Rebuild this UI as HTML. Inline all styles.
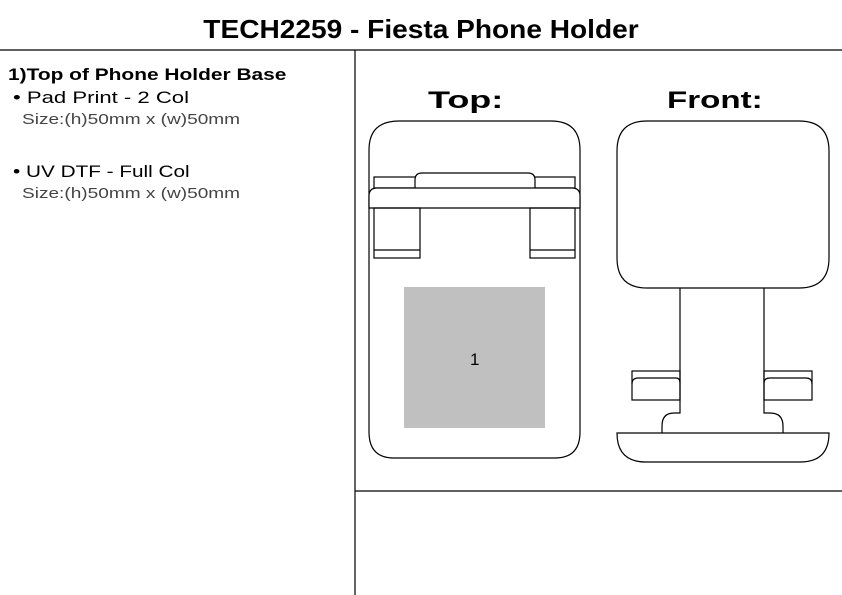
<!DOCTYPE html><html><head><style>
body{margin:0;width:842px;height:595px;background:#fff;font-family:"Liberation Sans",sans-serif;position:relative;overflow:hidden}
.t{position:absolute;white-space:nowrap;color:#000;transform-origin:0 50%}
</style></head><body>
<div class="t" style="left:0;width:842px;text-align:center;top:14px;font-size:26px;font-weight:bold;transform-origin:50% 50%;transform:scaleX(1.08)">TECH2259 - Fiesta Phone Holder</div>
<div class="t" style="left:8px;top:65px;font-size:17px;font-weight:bold;transform:scaleX(1.23)">1)Top of Phone Holder Base</div>
<div class="t" style="left:13px;top:88px;font-size:17px;transform:scaleX(1.3)">• Pad Print - 2 Col</div>
<div class="t" style="left:22px;top:111px;font-size:15px;color:#444;transform:scaleX(1.27)">Size:(h)50mm x (w)50mm</div>
<div class="t" style="left:13px;top:162px;font-size:17px;transform:scaleX(1.22)">• UV DTF - Full Col</div>
<div class="t" style="left:22px;top:185px;font-size:15px;color:#444;transform:scaleX(1.27)">Size:(h)50mm x (w)50mm</div>
<div class="t" style="left:428px;top:87px;font-size:24px;font-weight:bold;transform:scaleX(1.5)">Top:</div>
<div class="t" style="left:667px;top:87px;font-size:24px;font-weight:bold;transform:scaleX(1.38)">Front:</div>
<svg width="842" height="595" style="position:absolute;left:0;top:0" fill="none" stroke="#000" stroke-width="1.2">
<line x1="0" y1="50" x2="842" y2="50"/>
<line x1="355" y1="50" x2="355" y2="595"/>
<line x1="355" y1="491" x2="842" y2="491"/>
<path d="M369,432 V150 Q369,121 399,121 H551 Q580,121 580,150 V432 Q580,458 555,458 H394 Q369,458 369,432 Z"/>
<rect x="374" y="177" width="201" height="11"/>
<path d="M415,188 V180 Q415,173 422,173 H528 Q535,173 535,180 V188" fill="#fff"/>
<path d="M369,208 V196 Q369,188 377,188 H572 Q580,188 580,196 V208 Z" fill="#fff"/>
<rect x="374" y="208" width="46" height="50"/><line x1="374" y1="250" x2="420" y2="250"/>
<rect x="530" y="208" width="45" height="50"/><line x1="530" y1="250" x2="575" y2="250"/>
<rect x="404" y="287" width="141" height="141" fill="#c0c0c0" stroke="none"/>
<path d="M647,288 Q617,288 617,258 V151 Q617,121 647,121 H799 Q829,121 829,151 V258 Q829,288 799,288 Z"/>
<rect x="632" y="371" width="48" height="29"/><path d="M632,384 Q632,378 638,378 H676 Q680,378 680,383"/>
<rect x="764" y="371" width="48" height="29"/><path d="M764,383 Q764,378 770,378 H806 Q812,378 812,384"/>
<path d="M680,288 V413 H674 Q662,413 662,426 V433 M764,288 V413 H770 Q783,413 783,426 V433"/>
<path d="M617,433 H829 Q829,462 800,462 H646 Q617,462 617,433 Z"/>
</svg>
<div class="t" style="left:470px;top:350px;font-size:17px">1</div>
</body></html>
